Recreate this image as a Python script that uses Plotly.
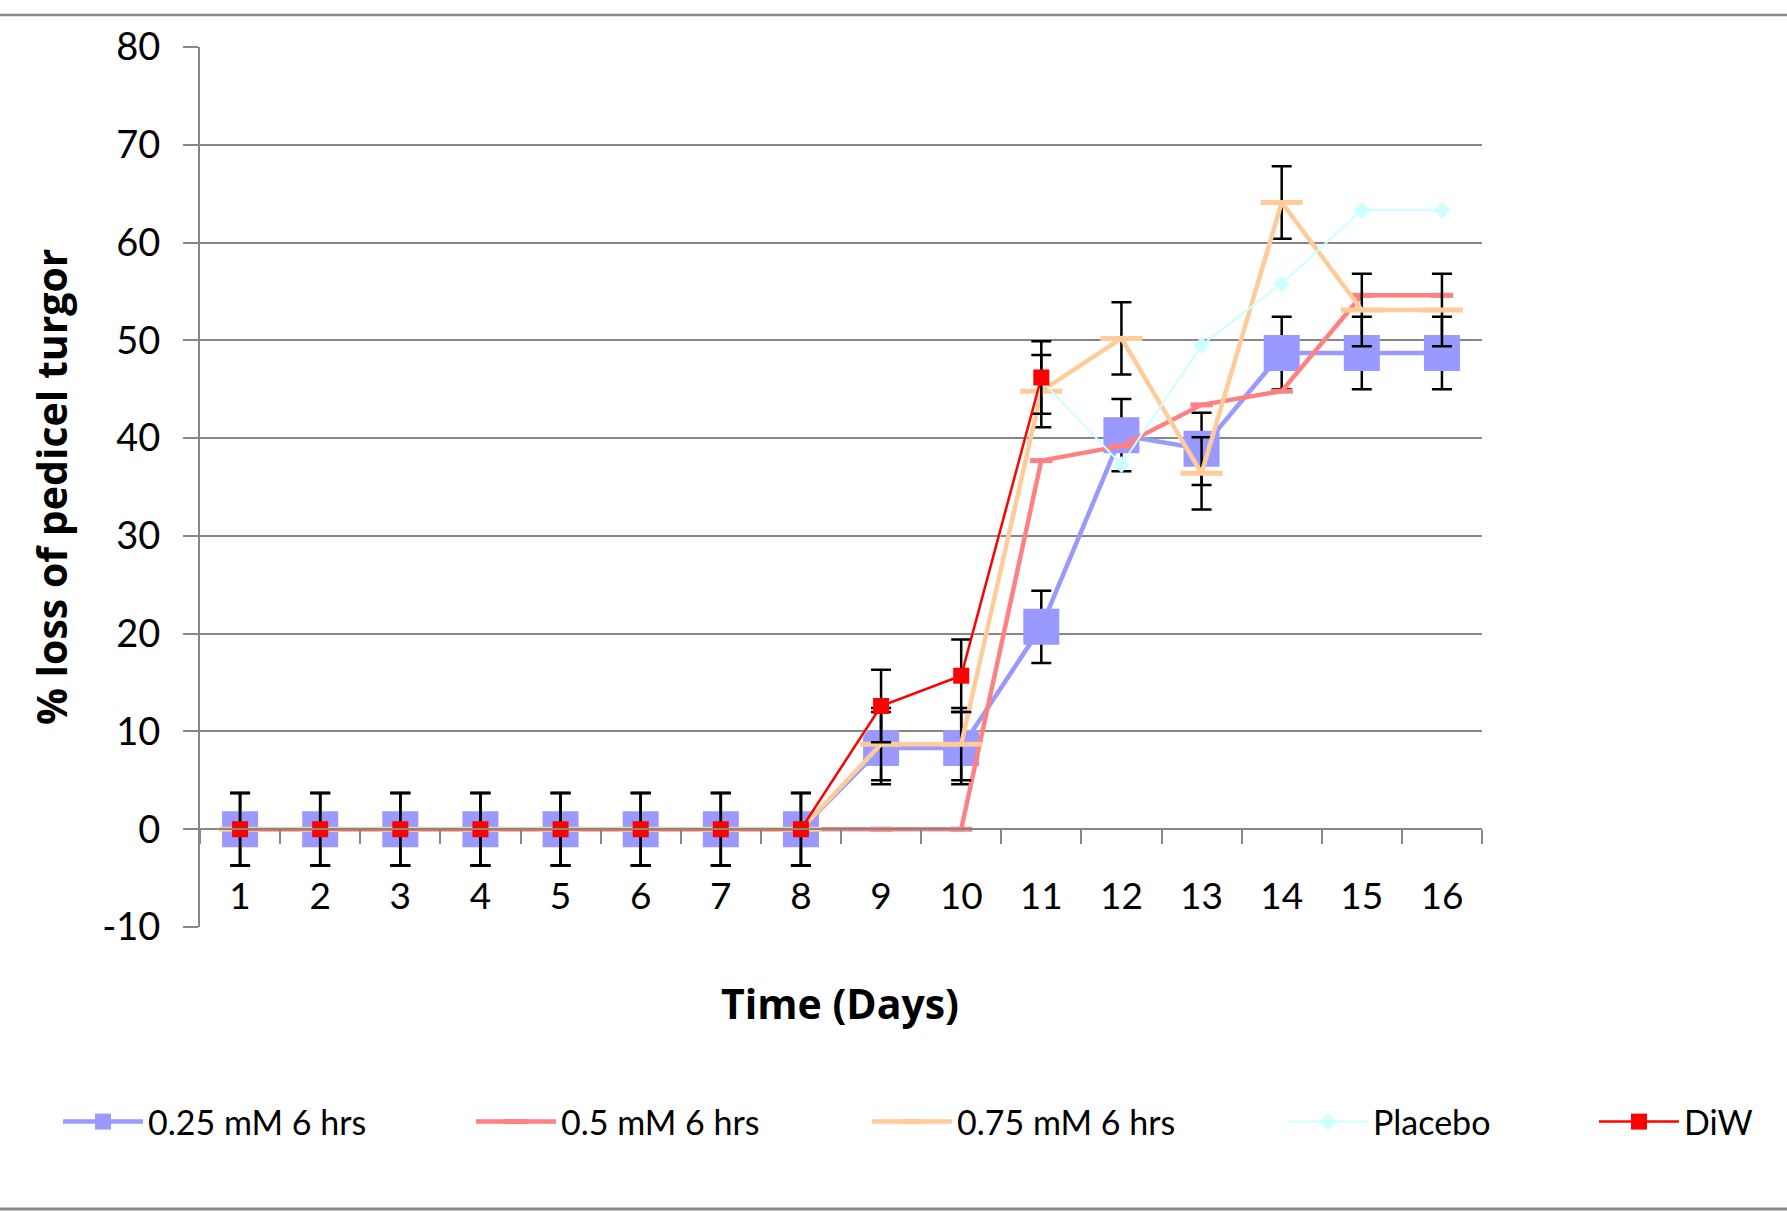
import plotly.graph_objects as go

# ---- data -------------------------------------------------------------
days = ["1", "2", "3", "4", "5", "6", "7", "8",
        "9", "10", "11", "12", "13", "14", "15", "16"]

mm025_6h = [0, 0, 0, 0, 0, 0, 0, 0, 8.3, 8.3, 20.7, 40.3, 38.9, 48.7, 48.7, 48.7]
mm025_err = [3.7, 3.7, 3.7, 3.7, 3.7, 3.7, 3.7, 3.7, 3.7, 3.7, 3.7, 3.7, 3.7, 3.7, 3.7, 3.7]

mm05_6h = [0, 0, 0, 0, 0, 0, 0, 0, 0, 0, 37.7, 39.2, 43.4, 44.8, 54.6, 54.6]

mm075_6h = [0, 0, 0, 0, 0, 0, 0, 0, 8.7, 8.7, 44.8, 50.2, 36.4, 64.1, 53.1, 53.1]
mm075_err = [3.7, 3.7, 3.7, 3.7, 3.7, 3.7, 3.7, 3.7, 3.7, 3.7, 3.7, 3.7, 3.7, 3.7, 3.7, 3.7]

placebo = [0, 0, 0, 0, 0, 0, 0, 0, 12.4, 15.4, 45.9, 37.3, 49.5, 55.8, 63.3, 63.3]

diw_days = ["1", "2", "3", "4", "5", "6", "7", "8", "9", "10", "11"]
diw = [0, 0, 0, 0, 0, 0, 0, 0, 12.6, 15.7, 46.2]
diw_err = [3.7, 3.7, 3.7, 3.7, 3.7, 3.7, 3.7, 3.7, 3.7, 3.7, 3.7]

Y_MIN, Y_MAX = -10, 80
y_ticks = [-10, 0, 10, 20, 30, 40, 50, 60, 70, 80]
y_tick_labels = ["-10", "0", "10", "20", "30", "40", "50", "60", "70", "80"]

# ---- styling ----------------------------------------------------------
GRID = "#878787"
FONT = "Lato"
TITLE_FONT = "Open Sans"
ERR = dict(type="data", visible=True, color="black", thickness=2.5, width=10)

fig = go.Figure()

fig.add_trace(go.Scatter(
    x=days, y=mm025_6h, name="0.25 mM 6 hrs", mode="lines+markers",
    line=dict(color="#9999FF", width=4.5),
    marker=dict(symbol="square", size=36, color="#9999FF"),
    error_y=dict(array=mm025_err, **ERR),
    legend="legend",
))
fig.add_trace(go.Scatter(
    x=days, y=mm05_6h, name="0.5 mM 6 hrs", mode="lines+markers",
    line=dict(color="#FF8080", width=4.5),
    marker=dict(symbol="line-ew", size=16, color="#FF8080",
                line=dict(color="#FF8080", width=5)),
    legend="legend2",
))
fig.add_trace(go.Scatter(
    x=days, y=mm075_6h, name="0.75 mM 6 hrs", mode="lines+markers",
    line=dict(color="#FFCC99", width=4.5),
    marker=dict(symbol="line-ew", size=30, color="#FFCC99",
                line=dict(color="#FFCC99", width=5)),
    error_y=dict(array=mm075_err, **ERR),
    legend="legend3",
))
fig.add_trace(go.Scatter(
    x=days, y=placebo, name="Placebo", mode="lines+markers",
    line=dict(color="#CCFFFF", width=2),
    marker=dict(symbol="diamond", size=13, color="#CCFFFF"),
    legend="legend4",
))
fig.add_trace(go.Scatter(
    x=diw_days, y=diw, name="DiW", mode="lines+markers",
    line=dict(color="#FF0000", width=2.5),
    marker=dict(symbol="square", size=16, color="#FF0000"),
    error_y=dict(array=diw_err, **ERR),
    legend="legend5",
))

# ---- layout -----------------------------------------------------------
W, H = 1787, 1211
L, R, T, B = 200, 305, 47, 284
plot_w = W - L - R
plot_h = H - T - B


def px_x(px):
    return (px - L) / plot_w


def px_y(py):
    return (H - B - py) / plot_h


def legend_at(px_left):
    return dict(
        orientation="h", x=px_x(px_left), y=px_y(1122),
        xanchor="left", yanchor="middle",
        font=dict(family=FONT, size=34, color="black"),
        itemwidth=80, bgcolor="rgba(0,0,0,0)", borderwidth=0,
        itemsizing="trace",
    )


fig.update_layout(
    width=W, height=H,
    margin=dict(l=L, r=R, t=T, b=B, autoexpand=False),
    paper_bgcolor="white", plot_bgcolor="white",
    template="none",
    font=dict(family=FONT, color="black"),
    showlegend=True,
    legend=legend_at(58),
    legend2=legend_at(471),
    legend3=legend_at(867),
    legend4=legend_at(1283),
    legend5=legend_at(1594),
    xaxis=dict(
        type="category", categoryorder="array", categoryarray=days,
        range=[-0.5, len(days) - 0.5],
        anchor="free", position=(0 - Y_MIN) / (Y_MAX - Y_MIN),
        tickson="boundaries", ticks="outside", ticklen=14, tickwidth=2,
        tickcolor=GRID, showgrid=False, zeroline=False,
        showline=True, linecolor=GRID, linewidth=2,
        tickfont=dict(family=FONT, size=37, color="black"),
        ticklabelstandoff=34,
    ),
    yaxis=dict(
        range=[Y_MIN, Y_MAX], tickmode="array", tickvals=y_ticks,
        ticktext=y_tick_labels,
        showgrid=True, gridcolor=GRID, gridwidth=2, zeroline=False,
        showline=True, linecolor=GRID, linewidth=2,
        ticks="outside", ticklen=15, tickwidth=2, tickcolor=GRID,
        tickfont=dict(family=FONT, size=38, color="black"),
        ticklabelstandoff=15,
    ),
    annotations=[
        dict(text="<b>% loss of pedicel turgor</b>", textangle=-90,
             xref="paper", yref="paper", x=px_x(51), y=0.5,
             xanchor="center", yanchor="middle", showarrow=False,
             font=dict(family=TITLE_FONT, size=41, color="black")),
        dict(text="<b>Time (Days)</b>",
             xref="paper", yref="paper", x=px_x(840), y=px_y(1003),
             xanchor="center", yanchor="middle", showarrow=False,
             font=dict(family=TITLE_FONT, size=41, color="black")),
    ],
    shapes=[
        dict(type="line", xref="paper", yref="paper",
             x0=px_x(0), x1=px_x(W), y0=px_y(15), y1=px_y(15),
             line=dict(color="#8a8a8a", width=2.5)),
        dict(type="line", xref="paper", yref="paper",
             x0=px_x(0), x1=px_x(W), y0=px_y(1209), y1=px_y(1209),
             line=dict(color="#8a8a8a", width=3)),
    ],
)

fig.write_html("out.html")
